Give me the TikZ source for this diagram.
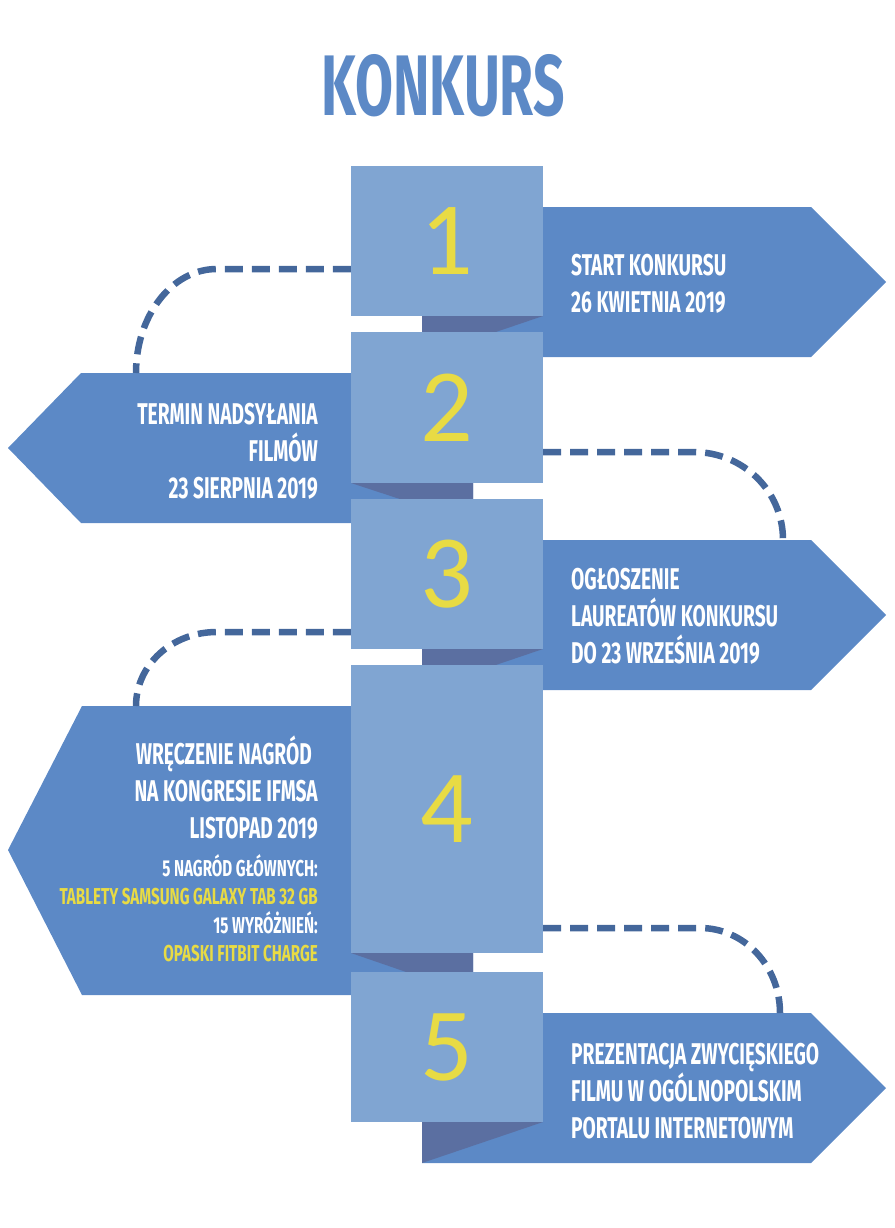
\documentclass[tikz,border=0pt]{standalone}
\usepackage{fontspec}
\newfontfamily\bebas[FakeStretch=0.64]{Fira Sans}
\newfontfamily\bebaswide[FakeStretch=0.66]{Fira Sans}
\newfontfamily\digitfont{Carlito}
\usetikzlibrary{positioning, calc}
\definecolor{sqblue}{HTML}{80A5D2}
\definecolor{arrblue}{HTML}{5C89C6}
\definecolor{foldblue}{HTML}{5B6FA1}
\definecolor{dashblue}{HTML}{44679B}
\definecolor{numyellow}{HTML}{E8DB44}
\tikzset{
    sq/.style = {rectangle, fill=sqblue, minimum width=192pt, inner sep=0pt, text=numyellow, font=\digitfont\fontsize{104}{104}\selectfont},% the numbered squares
    banner/.style = {fill=arrblue},
    fold/.style = {fill=foldblue},
    dashline/.style = {draw=dashblue, line width=6.5pt, dash pattern=on 18pt off 9pt},
    txtr/.style = {anchor=west, inner sep=0pt, align=left, text=white, font=\bebas\bfseries\fontsize{30}{37}\selectfont},
    txtl/.style = {anchor=east, inner sep=0pt, align=right, text=white, font=\bebas\bfseries\fontsize{30}{37}\selectfont},
    small/.style = {anchor=east, inner sep=0pt, align=right, text=white, font=\bebaswide\bfseries\fontsize{23}{28.5}\selectfont}
}

\begin{document}
\begin{tikzpicture}[x=1pt, y=-1pt]
    \useasboundingbox (0,0) rectangle (894,1228);
    % title
    \node[text=arrblue, font=\bebas\bfseries\fontsize{86}{90}\selectfont, inner sep=0pt] (title) at (443,86) {KONKURS};
    % banners to the right
    \foreach \ya/\yb in {207/316, 540/649, 1013/1122}{
        \fill[banner] (422,\ya) -- (811,\ya) -- (886,\ya+75) -- (811,\ya+150) -- (422,\ya+150) -- cycle;
        \fill[fold] (422,\yb) -- (543,\yb) -- (422,\ya+150) -- cycle;
    }
    % banners to the left
    \fill[banner] (473,373) -- (81,373) -- (8,448) -- (81,523) -- (473,523) -- cycle;
    \fill[fold] (473,483) -- (351,483) -- (473,523) -- cycle;
    \fill[banner] (473,706) -- (82,706) -- (8,850) -- (82,995) -- (473,995) -- cycle;
    \fill[fold] (473,953) -- (351,953) -- (473,995) -- cycle;
    \coordinate (e1) at (136,373);
    \coordinate (e2) at (783,540);
    \coordinate (e3) at (136,706);
    \coordinate (e4) at (780,1013);
    % squares
    \node[sq, minimum height=150pt] (s1) at (447,241) {1};
    \node[sq, minimum height=151pt] (s2) at (447,407.5) {2};
    \node[sq, minimum height=150pt] (s3) at (447,574) {3};
    \node[sq, minimum height=288pt] (s4) at (447,809) {4};
    \node[sq, minimum height=150pt] (s5) at (447,1047) {5};
    % dashed links
    \draw[dashline] ([yshift=-28pt]s1.west) -- ++(-134,0) .. controls +(-45,0) and +(0,-57) .. (e1);
    \draw[dashline] ([yshift=-44.5pt]s2.east) -- ++(150,0) .. controls +(50,0) and +(0,-49) .. (e2);
    \draw[dashline] ([yshift=-58pt]s3.west) -- ++(-134,0) .. controls +(-45,0) and +(0,-41) .. (e3);
    \draw[dashline] ([yshift=-119pt]s4.east) -- ++(157,0) .. controls +(44,0) and +(0,-47) .. (e4);
    % texts
    \node[txtr] (t1) at (571,284) {START KONKURSU\\26 KWIETNIA 2019};
    \node[txtl] (t2) at (318,451) {TERMIN NADSYŁANIA\\FILMÓW\\23 SIERPNIA 2019};
    \node[txtr] (t3) at (571,616) {OGŁOSZENIE\\LAUREATÓW KONKURSU\\DO 23 WRZEŚNIA 2019};
    \node[txtl] (t4) at (318,788) {WRĘCZENIE NAGRÓD\hspace*{6pt}\\NA KONGRESIE IFMSA\\LISTOPAD 2019};
    \node[small] (t4b) at (318,908) {5 NAGRÓD GŁÓWNYCH:\\\textcolor{numyellow}{TABLETY SAMSUNG GALAXY TAB 32 GB}\\15 WYRÓŻNIEŃ:\\\textcolor{numyellow}{OPASKI FITBIT CHARGE}};
    \node[txtr] (t5) at (571,1091) {PREZENTACJA ZWYCIĘSKIEGO\\FILMU W OGÓLNOPOLSKIM\\PORTALU INTERNETOWYM};
\end{tikzpicture}
\end{document}
